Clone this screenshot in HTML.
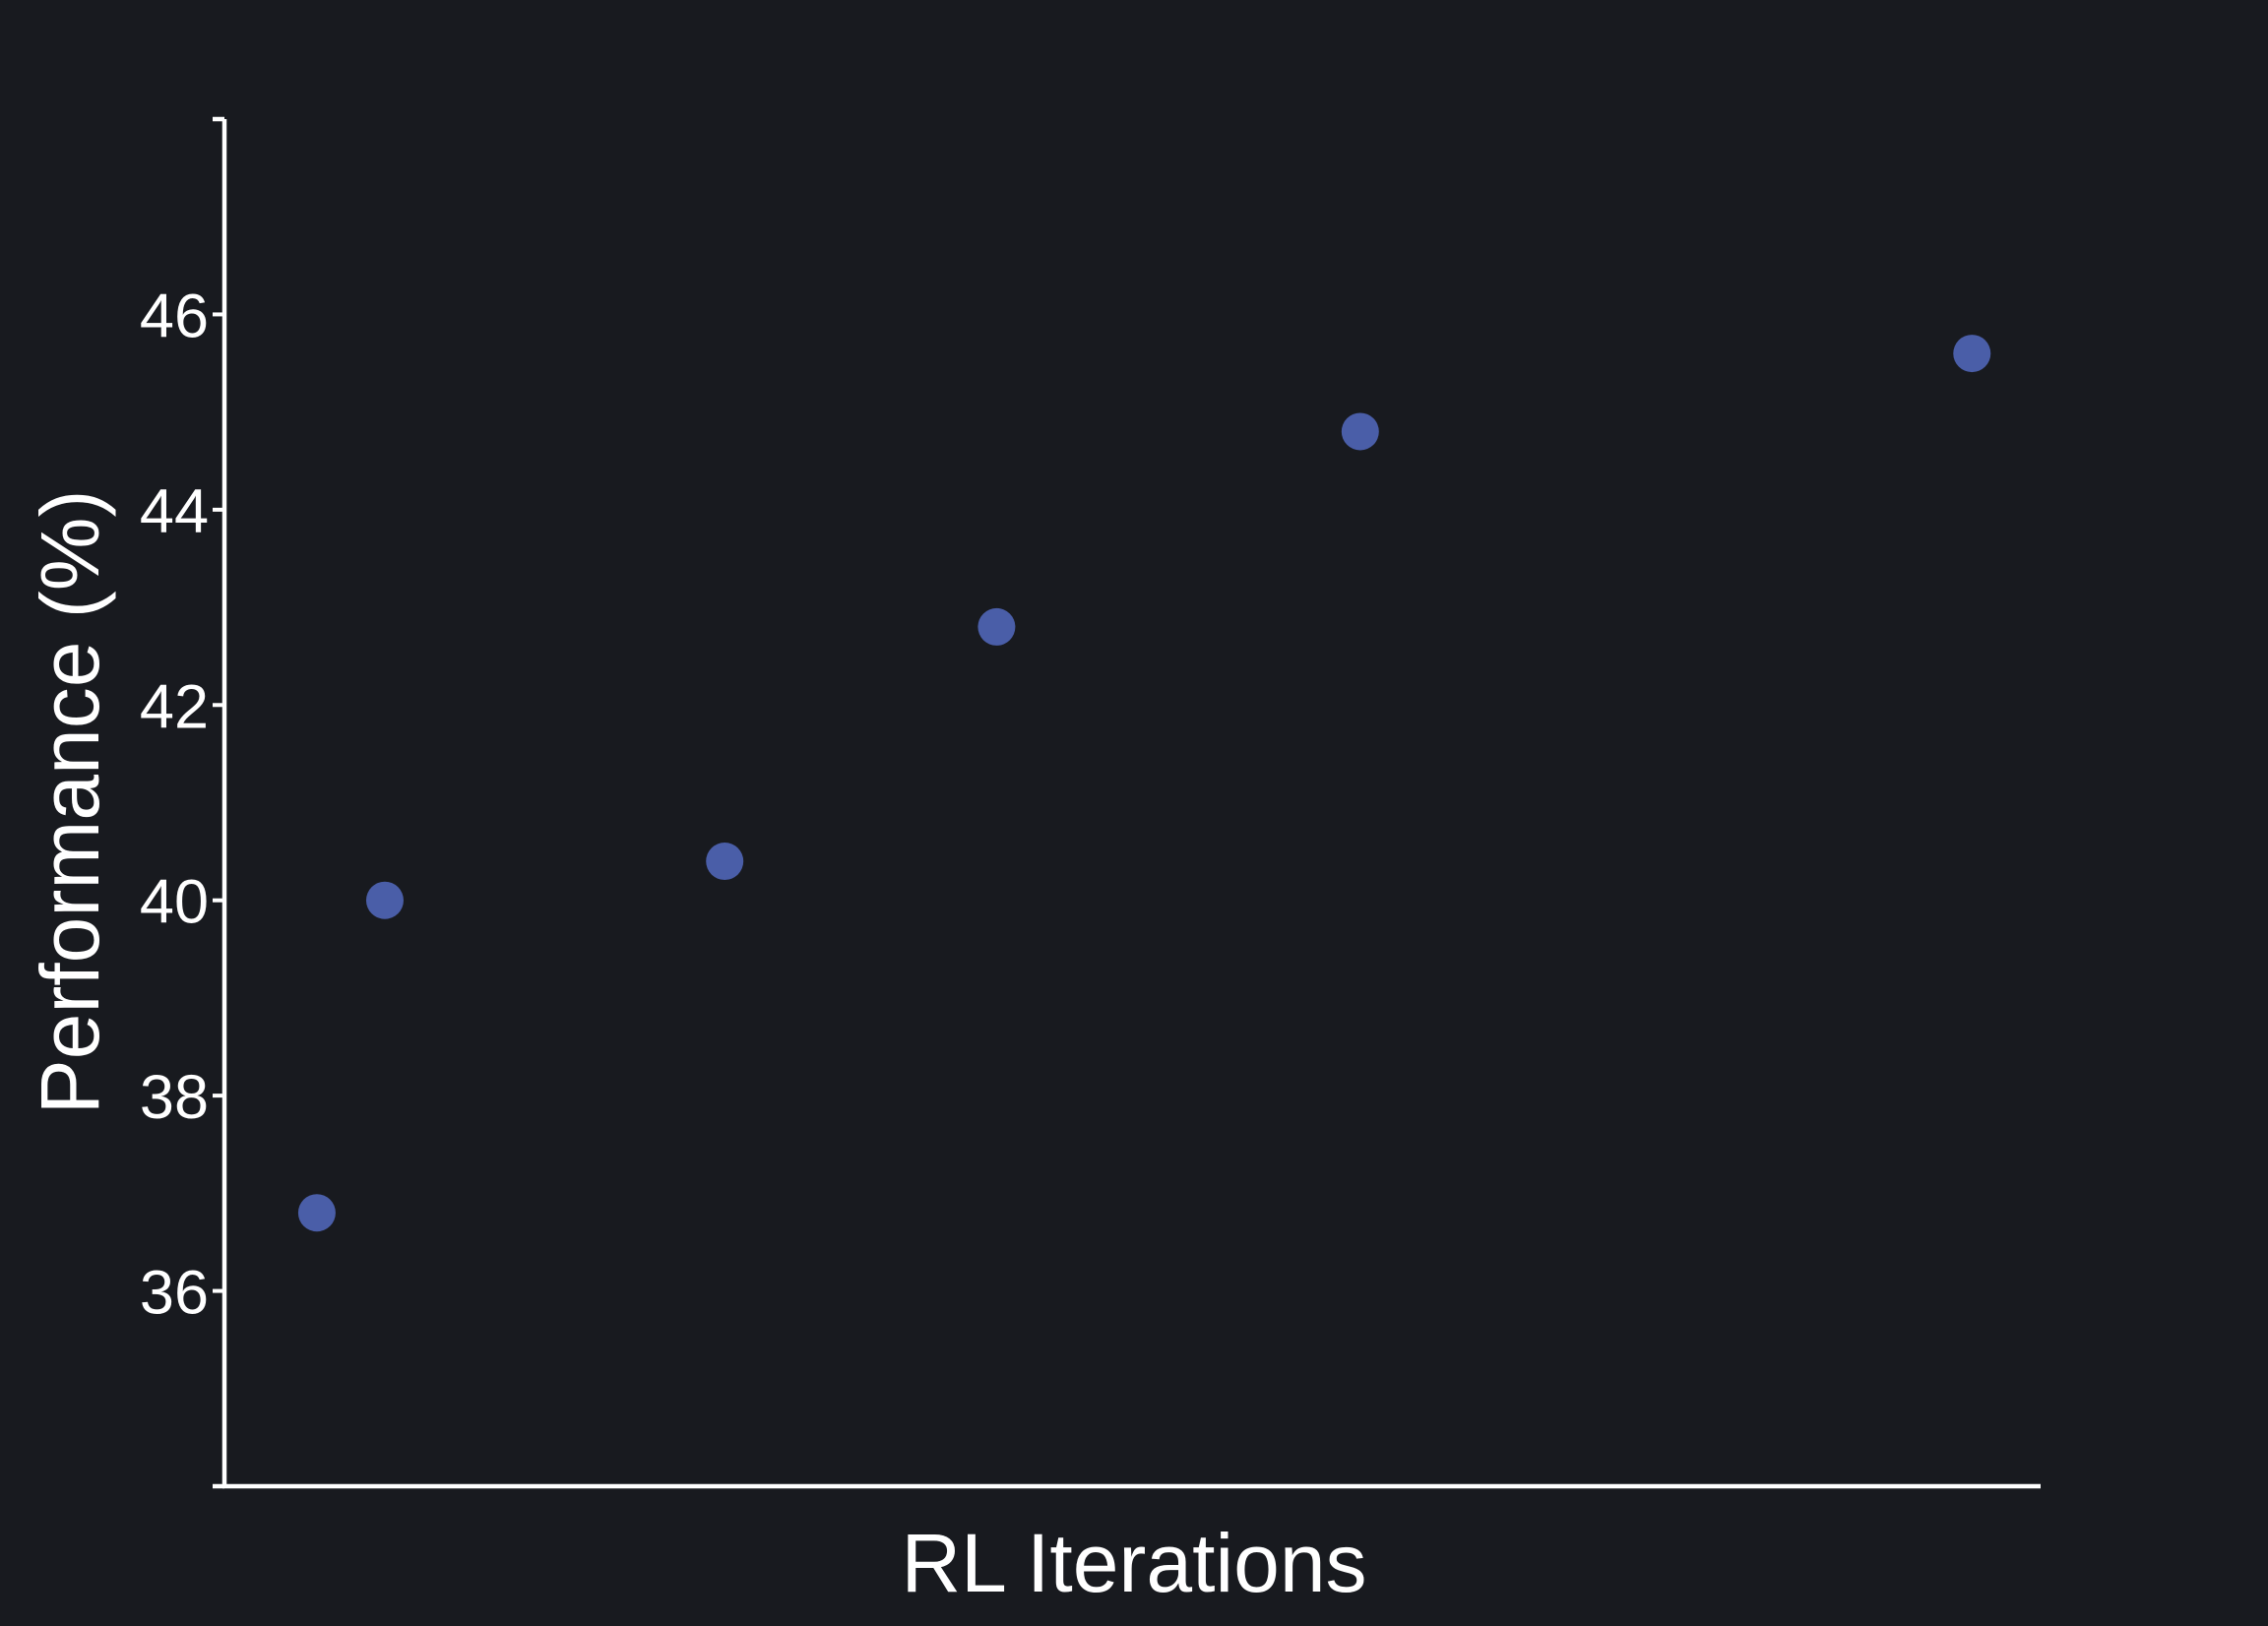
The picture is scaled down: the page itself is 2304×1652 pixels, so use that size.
<!DOCTYPE html>
<html><head><meta charset="utf-8"><style>
html,body{margin:0;padding:0;background:#181a1f;}
svg{display:block;}
text{font-family:"Liberation Sans",sans-serif;fill:#ffffff;}
</style></head><body>
<svg id="chart" width="2304" height="1652" viewBox="0 0 2304 1652">
<rect width="2304" height="1652" fill="#181a1f"/>
<g id="plot"></g>
</svg>
<script>
const xValues = [0, 20, 120, 200, 307, 487];
const yValues = [36.8, 40.0, 40.4, 42.8, 44.8, 45.6];
const yTicks = [36, 38, 40, 42, 44, 46];
const xDomain = [-27.2, 507.2];
const yDomain = [34, 48];

const L = 228, R = 2073, T = 121, B = 1510;
const NS = 'http://www.w3.org/2000/svg';
const g = document.getElementById('plot');
function sx(v){ return L + (v - xDomain[0]) / (xDomain[1] - xDomain[0]) * (R - L); }
function sy(v){ return B - (v - yDomain[0]) / (yDomain[1] - yDomain[0]) * (B - T); }
function el(tag, attrs){ const e = document.createElementNS(NS, tag); for (const k in attrs) e.setAttribute(k, attrs[k]); g.appendChild(e); return e; }

const yAxis = el('line', {x1:L, y1:T, x2:L, y2:B, stroke:'#fff', 'stroke-width':4.5});


const xAxis = el('line', {x1:L-2, y1:B, x2:R, y2:B, stroke:'#fff', 'stroke-width':4.5});


const endTop = el('line', {x1:L-12, y1:T, x2:L, y2:T, stroke:'#fff', 'stroke-width':4.5});


const endBot = el('line', {x1:L-12, y1:B, x2:L, y2:B, stroke:'#fff', 'stroke-width':4.5});



yTicks.forEach(t => {
  const y = sy(t);
  const tk = el('line', {x1:L-12, y1:y, x2:L, y2:y, stroke:'#fff', 'stroke-width':4});
  
  
  const tx = el('text', {x:L-16, y:y+23, 'text-anchor':'end', 'font-size':63});
  tx.textContent = String(t);
  
  
});

xValues.forEach((xv, i) => {
  const c = el('circle', {cx:sx(xv), cy:sy(yValues[i]), r:19, fill:'#4a5ea8'});
  
  
});

const xt = el('text', {x:1152, y:1617, 'text-anchor':'middle', 'font-size':84});
xt.textContent = 'RL Iterations';


const yt = el('text', {x:0, y:0, 'text-anchor':'middle', 'font-size':84, transform:'translate(100,815) rotate(-90)'});
yt.textContent = 'Performance (%)';


</script>
</body></html>
